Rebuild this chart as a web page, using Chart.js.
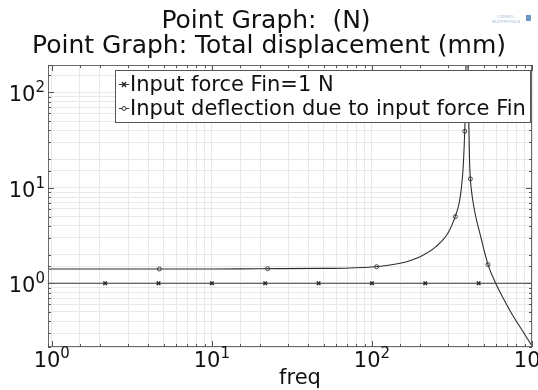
<!DOCTYPE html>
<html>
<head>
<meta charset="utf-8">
<script src="https://cdn.jsdelivr.net/npm/chart.js@4"></script>
<style>
  html, body { margin: 0; padding: 0; background: #fff; overflow: hidden; }
  #wrap { width: 538px; height: 390px; }
</style>
</head>
<body>
<div id="wrap"><canvas id="chart" width="538" height="390"></canvas></div>
<script>
// frequency sweep (Hz) and deflection
const freq = [0.947, 2, 5, 10, 20, 50, 100, 150, 200, 250, 300, 330, 350, 362, 372, 380, 385, 390, 396, 402, 407, 412, 418, 430, 445, 473, 531, 593, 660, 747, 850, 1000];
const deflection = [1.41, 1.41, 1.41, 1.41, 1.42, 1.43, 1.48, 1.62, 1.90, 2.40, 3.40, 4.90, 6.80, 9.9, 17, 39, 95, 600, 330, 60, 20, 12.4, 9.5, 6.8, 5.0, 3.3, 1.57, 1.0, 0.70, 0.48, 0.34, 0.22];

// input force, constant 1 N
const finFreq = [0.947, 1000];
const finValue = [1, 1];

// marker positions
const finMarkFreq = [2.154, 4.642, 10, 21.54, 46.42, 100, 215.4, 464.2];
const finMarkValue = [1, 1, 1, 1, 1, 1, 1, 1];
const defMarkFreq = [4.7, 22.3, 107, 332, 380, 412, 531];
const defMarkValue = [1.41, 1.42, 1.49, 4.98, 39, 12.4, 1.57];

const xTickExp = [0, 1, 2, 3];
const yTickExp = [0, 1, 2];
const titleLines = ['Point Graph:  (N)', 'Point Graph: Total displacement (mm)'];
const legendLabels = ['Input force Fin=1 N', 'Input deflection due to input force Fin'];
const xTitle = 'freq';

const toXY = (xs, ys) => xs.map((x, i) => ({ x: x, y: ys[i] }));
const FONT = '"DejaVu Sans", sans-serif';

// draw text, optional horizontal squeeze
function drawText(ctx, str, x, y, size, sx, align) {
  ctx.save();
  ctx.font = size + 'px ' + FONT;
  const w = ctx.measureText(str).width * sx;
  let x0 = x;
  if (align === 'center') x0 = x - w / 2;
  if (align === 'right') x0 = x - w;
  ctx.translate(x0, y);
  ctx.scale(sx, 1);
  ctx.textAlign = 'left';
  ctx.textBaseline = 'alphabetic';
  ctx.fillText(str, 0, 0);
  ctx.restore();
  return w;
}

// 10 with superscript exponent
function powLabel(ctx, exp, x, y, align) {
  const bs = 21, ss = 15;
  ctx.font = bs + 'px ' + FONT;
  const wb = ctx.measureText('10').width;
  ctx.font = ss + 'px ' + FONT;
  const we = ctx.measureText(String(exp)).width;
  const w = wb + we;
  let x0 = x - w / 2;
  if (align === 'right') x0 = x - w;
  drawText(ctx, '10', x0, y, bs, 1, 'left');
  drawText(ctx, String(exp), x0 + wb, y - 9, ss, 1, 'left');
}

const decorations = {
  id: 'decorations',
  afterDatasetsDraw(chart) {
    const ctx = chart.ctx;
    const a = chart.chartArea;
    const xs = chart.scales.x, ys = chart.scales.y;
    ctx.save();

    // frame
    ctx.strokeStyle = '#6a6a6a';
    ctx.lineWidth = 1;
    ctx.strokeRect(a.left + 0.5, a.top + 0.5, a.right - a.left - 1, a.bottom - a.top - 1);

    // inward tick marks on all sides
    ctx.strokeStyle = '#555';
    ctx.beginPath();
    xs.ticks.forEach(t => {
      const lg = Math.log10(t.value);
      const len = Math.abs(lg - Math.round(lg)) < 1e-6 ? 6 : 3;
      const px = Math.round(xs.getPixelForValue(t.value)) + 0.5;
      ctx.moveTo(px, a.bottom); ctx.lineTo(px, a.bottom - len);
      ctx.moveTo(px, a.top); ctx.lineTo(px, a.top + len);
    });
    ys.ticks.forEach(t => {
      const lg = Math.log10(t.value);
      const len = Math.abs(lg - Math.round(lg)) < 1e-6 ? 6 : 3;
      const py = Math.round(ys.getPixelForValue(t.value)) + 0.5;
      ctx.moveTo(a.left, py); ctx.lineTo(a.left + len, py);
      ctx.moveTo(a.right, py); ctx.lineTo(a.right - len, py);
    });
    ctx.stroke();

    // tick labels
    ctx.fillStyle = '#111';
    xTickExp.forEach(e => {
      powLabel(ctx, e, xs.getPixelForValue(Math.pow(10, e)), a.bottom + 20, 'center');
    });
    yTickExp.forEach(e => {
      powLabel(ctx, e, a.left - 3, ys.getPixelForValue(Math.pow(10, e)) + 9, 'right');
    });

    // axis title
    drawText(ctx, xTitle, 300, 384, 21, 1, 'center');

    // titles
    drawText(ctx, titleLines[0], 266, 28, 25, 1, 'center');
    drawText(ctx, titleLines[1], 269, 53, 25, 1, 'center');

    // legend box
    ctx.fillStyle = '#fff';
    ctx.fillRect(115, 70, 415, 52);
    ctx.strokeStyle = '#555';
    ctx.strokeRect(115.5, 70.5, 415, 52);
    const rows = [84, 108];
    ctx.strokeStyle = '#333';
    ctx.lineWidth = 1;
    rows.forEach(y => {
      ctx.beginPath(); ctx.moveTo(119, y + 0.5); ctx.lineTo(129, y + 0.5); ctx.stroke();
    });
    // legend markers
    ctx.beginPath();
    ctx.moveTo(122, rows[0] - 2); ctx.lineTo(126, rows[0] + 3);
    ctx.moveTo(126, rows[0] - 2); ctx.lineTo(122, rows[0] + 3);
    ctx.lineWidth = 1.5; ctx.stroke();
    ctx.beginPath(); ctx.arc(124, rows[1] + 0.5, 2, 0, Math.PI * 2);
    ctx.fillStyle = '#fff'; ctx.fill(); ctx.lineWidth = 1; ctx.stroke();
    ctx.fillStyle = '#111';
    drawText(ctx, legendLabels[0], 130, 91, 21, 1, 'left');
    drawText(ctx, legendLabels[1], 130, 115, 21, 1, 'left');

    // faint logo text top right
    ctx.fillStyle = '#a8c0da';
    drawText(ctx, 'COMSOL', 506, 18, 4, 1, 'center');
    drawText(ctx, 'MULTIPHYSICS', 506, 23, 4, 1, 'center');
    ctx.fillStyle = '#6f97c4';
    ctx.fillRect(526, 15, 5, 6);

    ctx.restore();
  }
};

new Chart(document.getElementById('chart'), {
  type: 'scatter',
  data: {
    datasets: [
      {
        label: legendLabels[0],
        data: toXY(finFreq, finValue),
        showLine: true,
        borderColor: '#3a3a3a',
        borderWidth: 1.2,
        pointRadius: 0
      },
      {
        label: legendLabels[1],
        data: toXY(freq, deflection),
        showLine: true,
        borderColor: '#2e2e2e',
        borderWidth: 1.1,
        pointRadius: 0,
        cubicInterpolationMode: 'monotone'
      },
      {
        label: 'fin markers',
        data: toXY(finMarkFreq, finMarkValue),
        pointStyle: 'crossRot',
        pointRadius: 2.5,
        borderColor: '#222',
        borderWidth: 1.5
      },
      {
        label: 'deflection markers',
        data: toXY(defMarkFreq, defMarkValue),
        pointStyle: 'circle',
        pointRadius: 2,
        backgroundColor: '#ffffff',
        borderColor: '#444',
        borderWidth: 1
      }
    ]
  },
  options: {
    responsive: false,
    animation: false,
    devicePixelRatio: 1,
    layout: { padding: { left: 48, right: 6, top: 65, bottom: 43 } },
    scales: {
      x: {
        type: 'logarithmic',
        min: 0.947,
        max: 1000,
        ticks: { display: false },
        grid: { color: '#e8e8e8', drawTicks: false },
        border: { display: false }
      },
      y: {
        type: 'logarithmic',
        min: 0.215,
        max: 193,
        ticks: { display: false },
        grid: { color: '#e8e8e8', drawTicks: false },
        border: { display: false }
      }
    },
    plugins: {
      legend: { display: false },
      title: { display: false },
      tooltip: { enabled: false }
    }
  },
  plugins: [decorations]
});
</script>
</body>
</html>
